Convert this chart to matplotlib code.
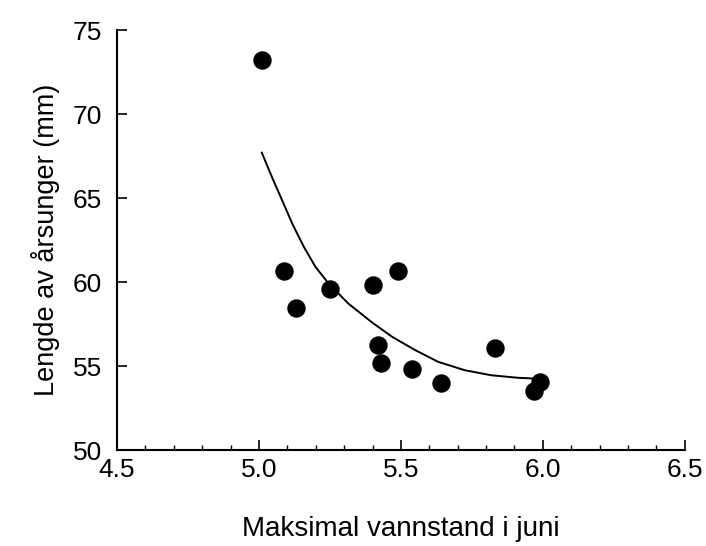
import numpy as np
import matplotlib
matplotlib.use('Agg')
import matplotlib.pyplot as plt
from matplotlib.ticker import MultipleLocator, FormatStrFormatter

# water level (x) and length of young-of-year (y)
vannstand = [5.01, 5.09, 5.13, 5.25, 5.40, 5.49, 5.42, 5.43, 5.54, 5.64, 5.83, 5.97, 5.99]
lengde = [73.2, 60.65, 58.45, 59.6, 59.85, 60.65, 56.25, 55.15, 54.8, 54.0, 56.05, 53.5, 54.05]

# fitted curve, points
kurve_x = [5.01, 5.047, 5.082, 5.118, 5.158, 5.199, 5.246, 5.316, 5.398, 5.468,
           5.550, 5.631, 5.725, 5.818, 5.912, 5.975]
kurve_y = [67.7, 66.2, 64.85, 63.45, 62.1, 60.9, 59.9, 58.7, 57.6, 56.75,
           55.95, 55.25, 54.75, 54.45, 54.3, 54.25]

plt.rcParams['font.family'] = ['Liberation Sans', 'DejaVu Sans']

fig = plt.figure(figsize=(7.06, 5.46), dpi=100)
ax = fig.add_axes([0.1657, 0.1758, 0.8043, 0.7692])

ax.plot(kurve_x, kurve_y, color='black', lw=1.4, solid_joinstyle='round')
ax.scatter(vannstand, lengde, s=150, color='black', zorder=3)

ax.set_xlim(4.5, 6.5)
ax.set_ylim(50, 75)
ax.xaxis.set_major_locator(MultipleLocator(0.5))
ax.xaxis.set_minor_locator(MultipleLocator(0.1))
ax.yaxis.set_major_locator(MultipleLocator(5))
ax.xaxis.set_major_formatter(FormatStrFormatter('%.1f'))

for s in ['top', 'right']:
    ax.spines[s].set_visible(False)
for s in ['left', 'bottom']:
    ax.spines[s].set_linewidth(1.5)

ax.tick_params(which='major', direction='in', length=7, width=1.2, labelsize=19)
ax.tick_params(which='minor', direction='in', length=3.5, width=1.0)
ax.tick_params(axis='x', which='major', pad=6)
ax.tick_params(axis='y', which='major', pad=11)

ax.set_xlabel('Maksimal vannstand i juni', fontsize=20, labelpad=24)
ax.set_ylabel('Lengde av årsunger (mm)', fontsize=19.5, labelpad=9)

fig.savefig('out.png', dpi=100)
